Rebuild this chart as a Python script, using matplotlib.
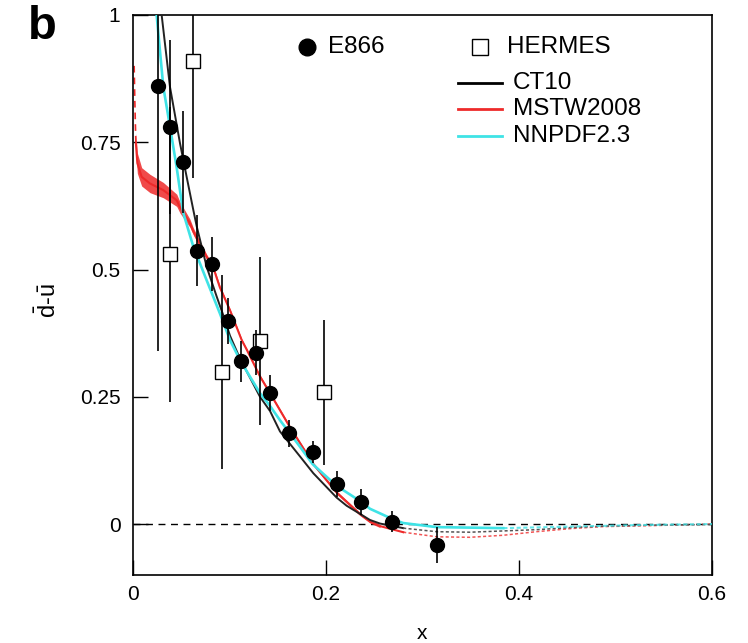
import numpy as np
import matplotlib
matplotlib.use("Agg")
import matplotlib.pyplot as plt

plt.rcParams['font.family'] = ['Liberation Sans', 'DejaVu Sans']
plt.rcParams['mathtext.fontset'] = 'custom'
plt.rcParams['mathtext.rm'] = 'Liberation Sans'
plt.rcParams['mathtext.it'] = 'Liberation Sans:italic'

# ---------------- data ----------------
e866_x = [0.026, 0.038, 0.052, 0.0667, 0.0822, 0.0981, 0.1119, 0.1278, 0.142,
          0.1617, 0.1862, 0.211, 0.2363, 0.2687, 0.3153]
e866_y = [0.86, 0.78, 0.711, 0.537, 0.511, 0.399, 0.320, 0.337, 0.258,
          0.178, 0.141, 0.079, 0.043, 0.005, -0.041]
e866_err = [0.52, 0.17, 0.10, 0.07, 0.053, 0.045, 0.04, 0.045, 0.035,
            0.027, 0.022, 0.025, 0.025, 0.02, 0.035]

hermes_x = [0.038, 0.0618, 0.0919, 0.1316, 0.1982]
hermes_y = [0.53, 0.910, 0.299, 0.360, 0.259]
hermes_err = [0.29, 0.23, 0.19, 0.165, 0.142]

ct10_x = [0.028, 0.0297, 0.0383, 0.0487, 0.0556, 0.0625, 0.066, 0.0763, 0.0867,
          0.0936, 0.1005, 0.1109, 0.1316, 0.142, 0.1523, 0.173, 0.1868, 0.211,
          0.2214, 0.2456, 0.256, 0.28, 0.3147, 0.349, 0.3837, 0.418, 0.4528,
          0.487, 0.539, 0.6]
ct10_y = [1.03, 1.0, 0.859, 0.748, 0.682, 0.617, 0.585, 0.5055, 0.447,
          0.41, 0.37, 0.325, 0.250, 0.222, 0.182, 0.133, 0.100, 0.052,
          0.036, 0.008, 0.001, -0.008, -0.015, -0.016, -0.0135, -0.011, -0.007,
          -0.004, -0.002, -0.001]

mstw_x = [0.0012, 0.0018, 0.0024, 0.003, 0.0045, 0.009, 0.0176, 0.0314, 0.0453,
          0.0487, 0.059, 0.0625, 0.069, 0.0763, 0.083, 0.090, 0.1005, 0.1126,
          0.118, 0.1316, 0.142, 0.1627, 0.1868, 0.211, 0.235, 0.2456, 0.256,
          0.28, 0.3147, 0.349, 0.3837, 0.418, 0.4528, 0.487, 0.539, 0.6]
mstw_y = [0.90, 0.84, 0.79, 0.748, 0.709, 0.682, 0.669, 0.656, 0.636,
          0.622, 0.591, 0.575, 0.551, 0.525, 0.505, 0.465, 0.420, 0.3615,
          0.342, 0.290, 0.257, 0.190, 0.118, 0.062, 0.020, 0.005, -0.004,
          -0.016, -0.025, -0.026, -0.022, -0.015, -0.009, -0.005, -0.003, 0.0]
mstw_band = [0.02, 0.02, 0.02, 0.02, 0.02, 0.018, 0.018, 0.015, 0.012,
             0.011, 0.008, 0.007, 0.006, 0.005, 0.004, 0.004, 0.003, 0.003,
             0.003, 0.003, 0.003, 0.003, 0.003, 0.003, 0.003, 0.003, 0.003,
             0.003, 0.003, 0.003, 0.003, 0.003, 0.003, 0.003, 0.003, 0.003]

nnpdf_x = [0.023, 0.0245, 0.0314, 0.0383, 0.0453, 0.052, 0.0625, 0.0763, 0.090,
           0.1005, 0.1109, 0.1316, 0.142, 0.1523, 0.173, 0.186, 0.211, 0.2363,
           0.2456, 0.2687, 0.28, 0.3147, 0.3837, 0.4528, 0.522, 0.6]
nnpdf_y = [1.03, 1.0, 0.859, 0.781, 0.700, 0.612, 0.545, 0.479, 0.414,
           0.3615, 0.322, 0.257, 0.232, 0.204, 0.152, 0.118, 0.075, 0.044,
           0.030, 0.010, 0.002, -0.006, -0.008, -0.005, -0.002, 0.0]

yticks = [0, 0.25, 0.5, 0.75, 1]
ytick_labels = ["0", "0.25", "0.5", "0.75", "1"]
xticks = [0, 0.2, 0.4, 0.6]
xtick_labels = ["0", "0.2", "0.4", "0.6"]

RED = '#ee2a2a'
CYAN = '#3fe3e6'

# ---------------- figure ----------------
fig = plt.figure(figsize=(7.48, 6.43), dpi=100)
ax = fig.add_axes([0.1778, 0.1058, 0.7741, 0.8709])
ax.set_xlim(0, 0.6)
ax.set_ylim(-0.1, 1.0)

def split(xs, ys, xcut):
    xs = np.asarray(xs); ys = np.asarray(ys)
    m1 = xs <= xcut
    i = np.argmax(~m1) if (~m1).any() else len(xs)
    return xs[:i + 1], ys[:i + 1], xs[i:], ys[i:]

# zero line
ax.axhline(0, color='black', lw=1.0, ls=(0, (5, 4)), zorder=1)

# MSTW band + line
mx = np.asarray(mstw_x); my = np.asarray(mstw_y); mb = np.asarray(mstw_band)
sel = (mx >= 0.003) & (mx <= 0.26)
ax.fill_between(mx[sel], my[sel] - mb[sel], my[sel] + mb[sel], color=RED,
                alpha=0.85, lw=0, zorder=2)
a_x, a_y, b_x, b_y = split(mx, my, 0.256)
ax.plot(a_x[a_x <= 0.0030001], a_y[a_x <= 0.0030001], color=RED, lw=1.2,
        ls=(0, (4, 3)), zorder=2)
ax.plot(a_x[a_x >= 0.003], a_y[a_x >= 0.003], color=RED, lw=1.5, zorder=2)
ax.plot(b_x, b_y, color=RED, lw=1.1, ls=(0, (2, 1.5)), alpha=0.8, zorder=2)

# CT10
a_x, a_y, b_x, b_y = split(ct10_x, ct10_y, 0.256)
ax.plot(a_x, a_y, color='#222222', lw=1.4, zorder=3)
ax.plot(b_x, b_y, color='#555555', lw=1.1, ls=(0, (2, 1.5)), zorder=3)

# NNPDF
a_x, a_y, b_x, b_y = split(nnpdf_x, nnpdf_y, 0.3147)
ax.plot(a_x, a_y, color=CYAN, lw=1.9, zorder=3)
ax.plot(b_x, b_y, color=CYAN, lw=1.5, ls=(0, (2, 1.2)), alpha=0.8, zorder=3)

# data
ax.errorbar(hermes_x, hermes_y, yerr=hermes_err, fmt='s', ms=10, mfc='white',
            mec='black', mew=1.0, ecolor='black', elinewidth=1.2, capsize=0,
            zorder=5)
ax.errorbar(e866_x, e866_y, yerr=e866_err, fmt='o', ms=10, mfc='black',
            mec='black', ecolor='black', elinewidth=1.2, capsize=0, zorder=6)

# axes styling
for s in ax.spines.values():
    s.set_linewidth(1.2)
ax.set_yticks(yticks)
ax.set_yticklabels(ytick_labels)
ax.set_xticks(xticks)
ax.set_xticklabels(xtick_labels)
ax.tick_params(direction='in', length=11, width=1.0, labelsize=15)
ax.tick_params(axis='y', pad=9)
ax.tick_params(axis='x', pad=7)
ax.set_xlabel('x', fontsize=15)
ax.xaxis.set_label_coords(0.5, -0.088)
ax.set_ylabel(r'$\bar{\mathrm{d}}$-$\bar{\mathrm{u}}$', fontsize=17)
ax.yaxis.set_label_coords(-0.125, 0.49)

# legend (manual, axes coords)
tr = ax.transAxes
ax.plot([0.3005], [0.943], 'o', color='black', ms=12, transform=tr, clip_on=False)
ax.text(0.3368, 0.943, 'E866', transform=tr, fontsize=17.5, va='center', ha='left')
ax.plot([0.599], [0.943], 's', mfc='white', mec='black', mew=1.0, ms=12,
        transform=tr, clip_on=False)
ax.text(0.646, 0.943, 'HERMES', transform=tr, fontsize=17.5, va='center', ha='left')
for yy, col, lab in [(0.8786, 'black', 'CT10'), (0.832, RED, 'MSTW2008'),
                     (0.783, CYAN, 'NNPDF2.3')]:
    ax.plot([0.561, 0.637], [yy, yy], color=col, lw=2, transform=tr, clip_on=False)
    ax.text(0.656, yy, lab, transform=tr, fontsize=17.5, va='center', ha='left')

fig.text(0.038, 0.993, 'b', fontsize=34, fontweight='bold', va='top', ha='left')

fig.savefig('out.png', dpi=100)
